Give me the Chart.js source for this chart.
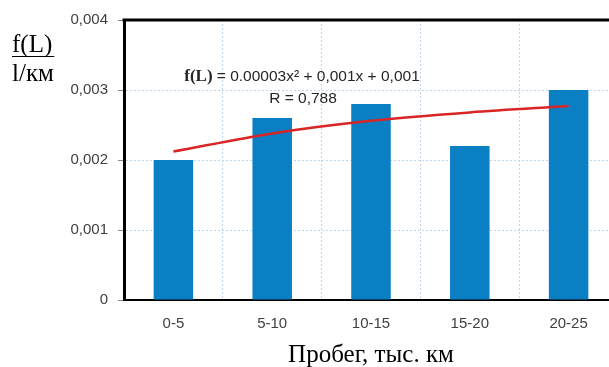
<!DOCTYPE html>
<html><head><meta charset="utf-8">
<script src="https://cdn.jsdelivr.net/npm/chart.js@4"></script>
<style>
html,body{margin:0;padding:0;overflow:hidden;background:#fff;}
#wrap{position:absolute;left:0;top:0;width:619px;height:367px;}
</style></head>
<body>
<div id="wrap"><canvas id="c"></canvas></div>
<script>
const categories = ['0-5','5-10','10-15','15-20','20-25'];
const barValues = [0.0020, 0.0026, 0.0028, 0.0022, 0.0030];
const trendValues = [0.00212, 0.00238, 0.00256, 0.00268, 0.00277];
const yTickValues = [0, 0.001, 0.002, 0.003, 0.004];
const yTickLabels = ['0','0,001','0,002','0,003','0,004'];
const equationText = '= 0.00003x² + 0,001x + 0,001';
const rText = 'R = 0,788';
const xTitle = 'Пробег, тыс. км';

const decor = {
  id:'decor',
  afterDraw(chart){
    const ctx = chart.ctx, a = chart.chartArea;
    ctx.save();
    // top border
    ctx.strokeStyle = '#000'; ctx.lineWidth = 3;
    ctx.beginPath(); ctx.moveTo(a.left-1.5, a.top); ctx.lineTo(a.right, a.top); ctx.stroke();
    // y title
    ctx.fillStyle = '#000';
    ctx.font = '25px "Liberation Serif", "DejaVu Serif", serif';
    ctx.textBaseline = 'alphabetic'; ctx.textAlign = 'left';
    ctx.fillText('f(L)', 12, 52);
    const w = ctx.measureText('f(L)').width;
    ctx.lineWidth = 1.2; ctx.beginPath(); ctx.moveTo(12, 56.5); ctx.lineTo(12+w+2, 56.5); ctx.stroke();
    ctx.fillText('l/км', 12, 81);
    // equation
    ctx.font = 'bold 17px "Liberation Serif", serif';
    const fw = ctx.measureText('f(L) ').width;
    ctx.font = '15.5px "Liberation Sans", Arial, sans-serif';
    const ew = ctx.measureText(equationText).width;
    const cx = 302;
    let x0 = cx - (fw+ew)/2;
    ctx.fillStyle = '#262626';
    ctx.font = 'bold 17px "Liberation Serif", serif';
    ctx.textBaseline = 'middle';
    ctx.fillText('f(L) ', x0, 77);
    ctx.font = '15.5px "Liberation Sans", Arial, sans-serif';
    ctx.fillText(equationText, x0+fw, 77);
    ctx.textAlign = 'center';
    ctx.fillText(rText, 303, 99);
    ctx.restore();
  }
};

new Chart(document.getElementById('c'), {
  type:'bar',
  data:{
    labels: categories,
    datasets:[
      {type:'line', data: trendValues, borderColor:'#d92525', borderWidth:2.5, pointRadius:0, tension:0.4, cubicInterpolationMode:'monotone', fill:false, order:0},
      {type:'bar', data: barValues, backgroundColor:'#0b7fc4', borderWidth:0, barPercentage:0.4, categoryPercentage:1.0, order:1}
    ]
  },
  options:{
    responsive:true, maintainAspectRatio:false, animation:false,
    devicePixelRatio:1,
    layout:{padding:{left:0,right:1,top:20,bottom:0}},
    plugins:{legend:{display:false}, tooltip:{enabled:false}},
    scales:{
      x:{
        grid:{color:'#bdd7ee', drawTicks:false, offset:true},
        border:{color:'#000', width:2, dash:[2,2]},
        ticks:{color:'#404040', font:{size:15, family:'"Liberation Sans", Arial, sans-serif'}, padding:15},
        title:{display:true, text:xTitle, color:'#000', font:{size:25, family:'"Liberation Serif", "DejaVu Serif", serif'}, padding:{top:0,bottom:-3}},
        afterFit(s){ s.height = 67; }
      },
      y:{
        min:0, max:0.004,
        grid:{color:'#bdd7ee', tickColor:'#888', tickLength:6, tickBorderDash:[]},
        border:{color:'#000', width:3, dash:[2,2]},
        afterBuildTicks(s){ s.ticks = yTickValues.map(v=>({value:v})); },
        ticks:{color:'#404040', font:{size:15, family:'"Liberation Sans", Arial, sans-serif'}, padding:10,
          callback(v){ const i = yTickValues.indexOf(v); return i>=0 ? yTickLabels[i] : ''; }},
        afterFit(s){ s.width = 124; }
      }
    }
  },
  plugins:[decor]
});
</script>
</body></html>
